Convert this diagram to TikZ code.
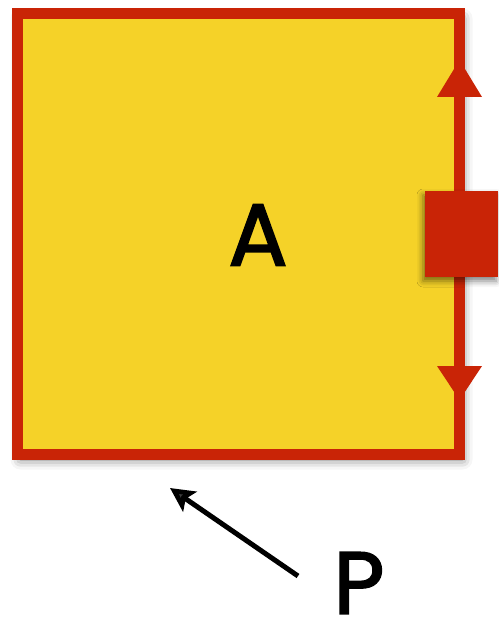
\documentclass[tikz,border=0pt]{standalone}
\usepackage{fontspec}
\setmainfont{Poppins}
\newfontfamily\handfont[FakeBold=2]{Poppins}
\usetikzlibrary{arrows.meta,shadows.blur}
\definecolor{areayellow}{HTML}{F5D228}
\definecolor{edgered}{HTML}{C92406}

\tikzset{
	region/.style={draw=edgered,fill=areayellow,line width=11pt,
		minimum width=442pt,minimum height=441pt,inner sep=0pt,
		blur shadow={shadow xshift=3pt,shadow yshift=-5pt,shadow blur radius=10pt,shadow opacity=55}},
	letter/.style={font=\fontsize{88}{88}\handfont,inner sep=0pt},
	pointer/.style={line width=5pt,-{Stealth[length=24pt,width=24pt,inset=5pt]}}
}

\begin{document}
\begin{tikzpicture}[x=1pt,y=-1pt]
		\useasboundingbox (0,0) rectangle (498,620);
		\node[region] (area) at (238.5,234) {};
		\node[letter] (A) at (258,235) {A};
		% direction of the boundary
		\fill[edgered] (459.5,60) -- (482,97) -- (437,97) -- cycle;
		\fill[edgered] (459.5,400) -- (482,366) -- (437,366) -- cycle;
		\fill[edgered,blur shadow={shadow xshift=-2pt,shadow yshift=-4pt,shadow blur radius=6pt,shadow opacity=50}]
		(425,191) rectangle (498,277);
		\node[letter] (P) at (359,583) {P};
		\coordinate (tail) at (298,576);
		\coordinate (tip) at (170,488);
		\draw[pointer] (tail) -- (tip);
\end{tikzpicture}
\end{document}
